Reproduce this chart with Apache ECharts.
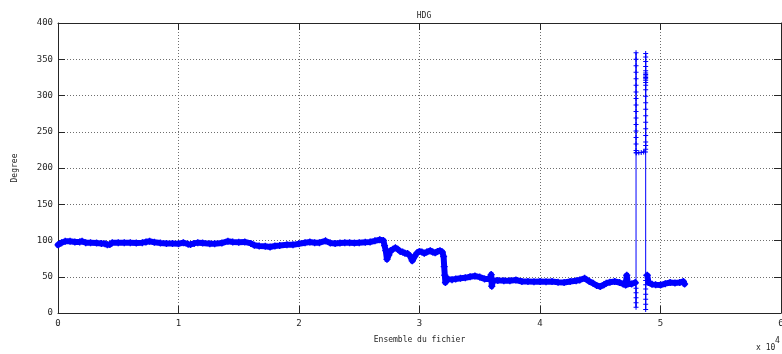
<!DOCTYPE html>
<html>
<head>
<meta charset="utf-8">
<title>HDG</title>
<script src="https://cdn.jsdelivr.net/npm/echarts@6/dist/echarts.min.js"></script>
<style>
  html, body { margin: 0; padding: 0; background: #fff; }
  #chart { width: 782px; height: 354px; }
</style>
</head>
<body>
<div id="chart"></div>
<script>
// Heading (HDG) per sample index over the whole file.
// Main heading trace; a null entry marks the break around the 0/360 wrap.
const traceIdx = [
  0, 300, 600, 1000, 1400, 1800, 2000, 2300, 2700, 3200, 3600, 3900, 4100, 4300, 4500,
  5000, 5500, 6000, 6500, 7000, 7300, 7600, 8000, 8500, 9000, 9500, 10000, 10400, 10800,
  11000, 11300, 11600, 12000, 12600, 13000, 13600, 14100, 14500, 15000, 15500, 16000,
  16300, 16700, 17200, 17600, 18000, 18400, 19000, 19500, 20000, 20500, 20900, 21300,
  21700, 22200, 22600, 23000, 23400, 23800, 24200, 24600, 25000, 25500, 25900, 26300,
  26700, 27000, 27100, 27200, 27300, 27450, 27600, 27800, 28000, 28200, 28400, 28600,
  28800, 29000, 29200, 29400, 29600, 29800, 30000, 30200, 30400, 30600, 30900, 31100,
  31300, 31500, 31700, 31900, 32000, 32050, 32100, 32150, 32250, 32400, 32700, 33000,
  33400, 33800, 34200, 34600, 35000, 35400, 35800, 35950, 36000, 36100, 36500, 37000,
  37500, 38000, 38500, 39000, 39500, 40000, 40500, 41000, 41500, 42000, 42500, 43000,
  43300, 43700, 44100, 44400, 44700, 45000, 45300, 45500, 45800, 46200, 46600, 46900,
  47100, 47200, 47300, 47600, 47900,
  null,
  48900, 49000, 49300, 49600, 50000, 50400, 50800, 51200, 51600, 51900, 52000
];
const traceHdg = [
  94, 97, 99, 99, 98, 98, 99, 97, 97, 96.5, 96, 95.5, 94, 94.5, 97,
  97, 97, 97, 96.5, 97, 98, 99, 97.5, 96.5, 96, 96, 95.5, 97, 95,
  94.5, 96, 97, 96.5, 95.5, 95.5, 96.5, 99, 98, 97.5, 98, 96,
  93.5, 92.5, 92, 91, 92.5, 93, 94, 94, 95.5, 97, 98, 97,
  97, 99.5, 96.5, 96, 96.5, 97, 97, 96.5, 97, 97.5, 98, 99.5,
  101, 100, 93, 86, 74, 80, 86, 88, 90, 88, 85, 84,
  82.5, 82, 79, 72, 78, 83, 85, 84, 82.5, 84, 86, 84,
  83, 85, 86, 84, 78, 64, 52, 42, 47, 46.5, 46, 47,
  48, 48.5, 50, 51, 49.5, 47, 47, 53, 37, 45, 45, 44.5,
  44.5, 45.5, 43.5, 43.5, 43, 43.5, 43, 43.5, 42.5, 42, 43.5, 44.5,
  45.5, 48, 43.5, 41, 38, 36.5, 39, 41, 42.5, 43.5, 42, 40,
  38.5, 52, 40, 40, 42,
  null,
  52, 42, 39.5, 39, 38.5, 40.5, 42, 41.5, 42, 43.5, 40
];

// Samples where the heading crosses north and wraps between 0 and 360.
const wrapIdx = [
  47900,
  47970, 47970, 47970, 47970, 47970, 47970,
  47970, 47970, 47970, 47970, 47970, 47970, 47970, 47970, 47970, 47970, 47970, 47970,
  47970, 47970, 47970, 47970, 47975,
  48000, 48200, 48400, 48600, 48750,
  48770, 48770, 48770, 48770, 48770, 48770, 48770, 48770, 48770, 48770, 48770, 48770,
  48770, 48770, 48770, 48770, 48770, 48770, 48770, 48770, 48770, 48770, 48770, 48770,
  48770, 48770, 48770, 48770, 48770, 48770, 48770, 48770,
  48900
];
const wrapHdg = [
  42,
  41, 34, 28, 21, 14, 8,
  359, 350, 341, 332, 323, 314, 305, 296, 287, 278, 269, 260,
  251, 242, 233, 224, 221,
  221, 221, 221.5, 222, 222,
  226, 231, 236, 245, 254, 263, 272, 281, 290, 299, 308, 314,
  318, 321, 323, 325, 327, 329, 331, 334, 340, 347, 353, 358,
  5, 12, 19, 26, 33, 39, 45, 52,
  52
];

const xTickLabels = ['0', '1', '2', '3', '4', '5', '6'];
const yTickValues = [0, 50, 100, 150, 200, 250, 300, 350, 400];

const toPairs = (xs, ys) => xs.map((x, i) => (x === null ? [null, null] : [x, ys[i]]));

const FONT = 'DejaVu Sans Mono';
const INK = '#262626';
const BLUE = '#0000ff';
const plusSymbol = 'path://M4,0h2v4h4v2h-4v4h-2v-4h-4v-2h4z';

const tickStyle = { show: true, inside: true, length: 7, lineStyle: { color: INK, width: 1 } };
const lineAxis = { show: true, onZero: false, lineStyle: { color: INK, width: 1 } };
const gridLine = { show: true, lineStyle: { color: '#6e6e6e', width: 1, type: [1, 2] } };

const chart = echarts.init(document.getElementById('chart'), null, { renderer: 'canvas' });

chart.setOption({
  animation: false,
  backgroundColor: '#ffffff',
  title: {
    text: 'HDG',
    left: 419,
    top: 7,
    textAlign: 'center',
    textStyle: { fontFamily: FONT, fontSize: 8, fontWeight: 'normal', color: INK }
  },
  grid: { left: 58, right: 1, top: 23, bottom: 41, containLabel: false, outerBoundsMode: 'none' },
  xAxis: [
    {
      type: 'value', position: 'bottom', min: 0, max: 60000, interval: 10000,
      axisLine: lineAxis, axisTick: tickStyle, splitLine: gridLine,
      axisLabel: {
        margin: 6, fontFamily: FONT, fontSize: 9, color: INK,
        formatter: v => xTickLabels[Math.round(v / 10000)]
      },
      name: 'Ensemble du fichier', nameLocation: 'middle', nameGap: 23,
      nameTextStyle: { fontFamily: FONT, fontSize: 8, color: INK }
    },
    {
      type: 'value', position: 'top', min: 0, max: 60000, interval: 10000,
      axisLine: lineAxis, axisTick: tickStyle, splitLine: { show: false },
      axisLabel: { show: false }
    }
  ],
  yAxis: [
    {
      type: 'value', position: 'left', min: yTickValues[0], max: yTickValues[yTickValues.length - 1],
      interval: 50,
      axisLine: lineAxis, axisTick: tickStyle, splitLine: gridLine,
      axisLabel: { margin: 5, fontFamily: FONT, fontSize: 9, color: INK },
      name: 'Degree', nameLocation: 'middle', nameGap: 39,
      nameTextStyle: { fontFamily: FONT, fontSize: 8, color: INK }
    },
    {
      type: 'value', position: 'right', min: 0, max: 400, interval: 50,
      axisLine: lineAxis, axisTick: tickStyle, splitLine: { show: false },
      axisLabel: { show: false }
    }
  ],
  graphic: [
    { type: 'text', left: 775, top: 337, style: { text: '4', font: '8px "DejaVu Sans Mono"', fill: INK } },
    { type: 'text', left: 756, top: 344, style: { text: 'x 10', font: '8px "DejaVu Sans Mono"', fill: INK } }
  ],
  series: [
    {
      name: 'HDG',
      type: 'line',
      data: toPairs(traceIdx, traceHdg),
      connectNulls: false,
      showSymbol: true,
      symbol: plusSymbol,
      symbolSize: 7,
      itemStyle: { color: BLUE },
      lineStyle: { color: BLUE, width: 6, join: 'round', cap: 'round' },
      silent: true
    },
    {
      name: 'HDG wrap',
      type: 'line',
      data: toPairs(wrapIdx, wrapHdg),
      showSymbol: true,
      symbol: plusSymbol,
      symbolSize: 5,
      itemStyle: { color: BLUE },
      lineStyle: { color: BLUE, width: 1 },
      silent: true
    }
  ]
});
</script>
</body>
</html>
